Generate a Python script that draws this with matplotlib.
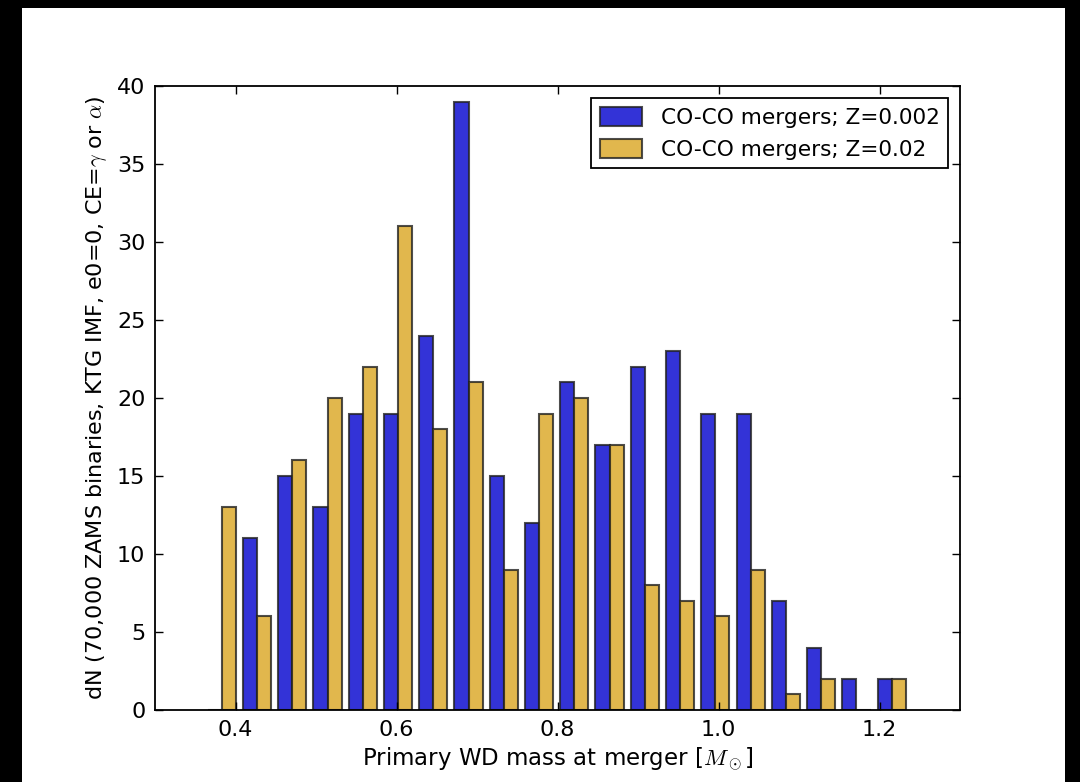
import numpy as np
import matplotlib
matplotlib.use("Agg")
import matplotlib.pyplot as plt
from matplotlib.patches import Rectangle

# merger counts per primary WD mass bin
bin_lo = 0.361
bin_hi = 1.237
nbins = 20
counts_z002 = [0, 11, 15, 13, 19, 19, 24, 39, 15, 12, 21, 17, 22, 23, 19, 19, 7, 4, 2, 2]
counts_z02 = [13, 6, 16, 20, 22, 31, 18, 21, 9, 19, 20, 17, 8, 7, 6, 9, 1, 2, 0, 2]
labels = ["CO-CO mergers; Z=0.002", "CO-CO mergers; Z=0.02"]

edges = np.linspace(bin_lo, bin_hi, nbins + 1)
centers = 0.5 * (edges[:-1] + edges[1:])

plt.rcParams['font.family'] = 'DejaVu Sans'
plt.rcParams['mathtext.fontset'] = 'cm'

fig = plt.figure(figsize=(10.8, 7.82), dpi=100)
fig.patch.set_facecolor('black')
fig.patches.append(Rectangle((22/1080, 0), (1065-22)/1080, (782-8)/782,
                             transform=fig.transFigure, facecolor='white',
                             edgecolor='none', zorder=-10))

ax = fig.add_axes([155/1080, 1-710/782, (960-155)/1080, (710-86)/782])
ax.hist([centers, centers], bins=edges, weights=[counts_z002, counts_z02],
        color=['mediumblue', 'goldenrod'], alpha=0.8, edgecolor='#222222',
        linewidth=1.5, label=labels)

ax.set_xlim(0.3, 1.3)
ax.set_ylim(0, 40)
ax.set_xticks([0.4, 0.6, 0.8, 1.0, 1.2])
ax.set_yticks(np.arange(0, 41, 5))
ax.tick_params(direction='in', top=True, right=True, length=6, width=1,
               labelsize=16, pad=7)
for s in ax.spines.values():
    s.set_linewidth(1.3)

ax.set_xlabel(r"Primary WD mass at merger [$M_\odot$]", fontsize=16.5, labelpad=4)
ax.set_ylabel(r"dN (70,000 ZAMS binaries, KTG IMF, e0=0, CE=$\gamma$ or $\alpha$)",
              fontsize=16, labelpad=6)

leg = ax.legend(loc='upper right', fontsize=15.6, fancybox=False, framealpha=1,
                borderaxespad=0.55, handlelength=1.95, handleheight=1.0,
                handletextpad=0.85, borderpad=0.4)
leg.get_frame().set_edgecolor('black')
leg.get_frame().set_linewidth(1.3)

fig.savefig("out.png", dpi=100, facecolor=fig.get_facecolor())
